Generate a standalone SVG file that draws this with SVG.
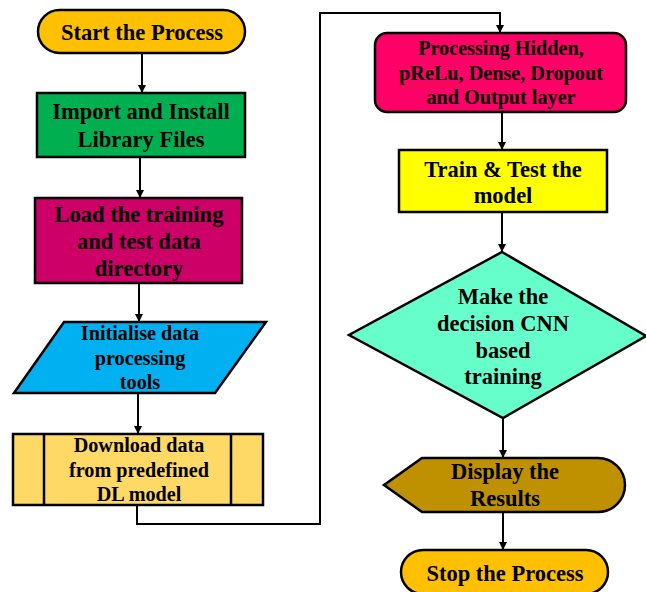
<svg xmlns="http://www.w3.org/2000/svg" width="646" height="592" viewBox="0 0 646 592">
<defs>
<marker id="ah" markerWidth="8" markerHeight="8" refX="7" refY="4" orient="auto" markerUnits="userSpaceOnUse">
<path d="M0,0 L8,4 L0,8 z" fill="#000"/>
</marker>
<style>
.s{stroke:#000;stroke-width:2.5}
.t{font-family:"Liberation Serif","Times New Roman",serif;font-weight:bold;font-size:22.5px;text-anchor:middle;fill:#000}
.m{font-size:20.2px}
.c{fill:none;stroke:#000;stroke-width:2}
</style>
</defs>
<rect width="646" height="592" fill="#fff"/>
<g id="connectors">
<line class="c" x1="142" y1="53" x2="142" y2="92" marker-end="url(#ah)"/>
<line class="c" x1="140" y1="157" x2="140" y2="197" marker-end="url(#ah)"/>
<line class="c" x1="139" y1="283" x2="139" y2="321" marker-end="url(#ah)"/>
<line class="c" x1="138" y1="393" x2="138" y2="433" marker-end="url(#ah)"/>
<polyline class="c" points="137,505 137,524 320,524 320,13 500,13 500,32" marker-end="url(#ah)"/>
<line class="c" x1="502" y1="112" x2="502" y2="149" marker-end="url(#ah)"/>
<line class="c" x1="502" y1="212" x2="502" y2="251" marker-end="url(#ah)"/>
<line class="c" x1="503" y1="418" x2="503" y2="457" marker-end="url(#ah)"/>
<line class="c" x1="503" y1="512" x2="503" y2="549" marker-end="url(#ah)"/>
</g>
<g id="start">
<rect class="s" x="38" y="10" width="207" height="43" rx="21.5" fill="#FFC000"/>
<text class="t" x="142" y="40">Start the Process</text>
</g>
<g id="import">
<rect class="s" x="37" y="93" width="208" height="64" fill="#00B050"/>
<text class="t" x="141" y="119">Import and Install</text>
<text class="t" x="141" y="147">Library Files</text>
</g>
<g id="load">
<rect class="s" x="35" y="198" width="207" height="85" fill="#CC0066"/>
<text class="t" x="139" y="222">Load the training</text>
<text class="t" x="139" y="249">and test data</text>
<text class="t" x="139" y="276">directory</text>
</g>
<g id="init">
<polygon class="s" points="64,322 266,322 215,393 14,393" fill="#00B0F0"/>
<text class="t m" x="140" y="340">Initialise data</text>
<text class="t m" x="140" y="365">processing</text>
<text class="t m" x="140" y="389">tools</text>
</g>
<g id="download">
<rect class="s" x="13" y="434" width="250" height="71" fill="#FFD966"/>
<line class="s" x1="44" y1="434" x2="44" y2="505"/>
<line class="s" x1="231" y1="434" x2="231" y2="505"/>
<text class="t m" x="139" y="452">Download data</text>
<text class="t m" x="139" y="477">from predefined</text>
<text class="t m" x="139" y="501">DL model</text>
</g>
<g id="processing">
<rect class="s" x="375" y="33" width="251" height="79" rx="12" fill="#FF0066"/>
<text class="t m" x="501" y="55">Processing Hidden,</text>
<text class="t m" x="501" y="80">pReLu, Dense, Dropout</text>
<text class="t m" x="501" y="104">and Output layer</text>
<path d="M399,85 q1.5,-2 3,0 t3,0 t3,0 t3,0 t3,0 t3,0 t3,0 t3,0 t3,0 t3,0 t3,0 t3,0 t3,0 t3,0 t3,0 t3,0 t3,0 t3,0 t3,0 t3,0" fill="none" stroke="#E02020" stroke-width="1"/>
</g>
<g id="train">
<rect class="s" x="399" y="150" width="208" height="62" fill="#FFFF00"/>
<text class="t" x="503" y="177">Train &amp; Test the</text>
<text class="t" x="503" y="203">model</text>
</g>
<g id="decision">
<polygon class="s" points="502,252 646,336 503,418 349,335" fill="#66FFCC"/>
<text class="t" x="503" y="304">Make the</text>
<text class="t" x="503" y="331">decision CNN</text>
<text class="t" x="503" y="358">based</text>
<text class="t" x="503" y="384">training</text>
</g>
<g id="display">
<path class="s" d="M384,485 L422,458 L598,458 A27,27 0 0 1 598,512 L422,512 Z" fill="#BF9000"/>
<text class="t" x="505" y="479">Display the</text>
<text class="t" x="505" y="506">Results</text>
</g>
<g id="stop">
<rect class="s" x="401" y="550" width="207" height="44" rx="22" fill="#FFC000"/>
<text class="t" x="505" y="581">Stop the Process</text>
</g>
</svg>
